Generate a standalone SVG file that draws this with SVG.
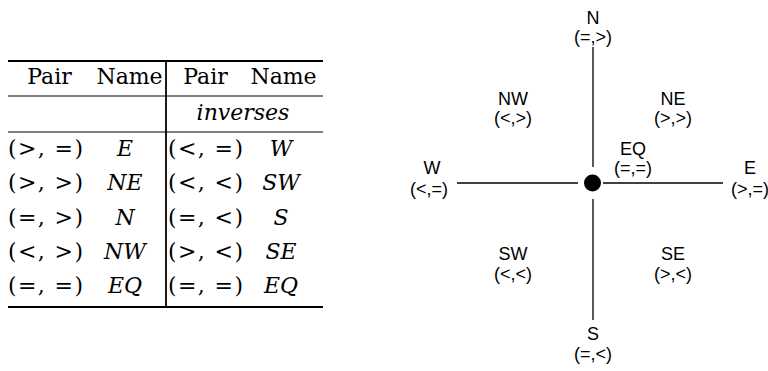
<svg xmlns="http://www.w3.org/2000/svg" width="768" height="371" viewBox="0 0 768 371">
<style>
.t{font-family:"DejaVu Serif","Liberation Serif",serif;font-size:22px;fill:#000}
.i{font-style:italic}
.m{text-anchor:middle}
.s{font-family:"Liberation Sans",Arial,sans-serif;font-size:18px;fill:#000;text-anchor:middle}
.r{stroke:#000;fill:none}
</style>
<rect width="768" height="371" fill="#fff"/>
<g id="table">
<line class="r" x1="8" y1="61" x2="323" y2="61" stroke-width="2"/>
<line class="r" x1="8" y1="96" x2="323" y2="96" stroke-width="1.2"/>
<line class="r" x1="8" y1="132" x2="323" y2="132" stroke-width="1.2"/>
<line class="r" x1="8" y1="307" x2="323" y2="307" stroke-width="2.2"/>
<line class="r" x1="166" y1="60" x2="166" y2="308" stroke-width="1.8"/>
<text class="t m" x="49.5" y="84">Pair</text>
<text class="t m" x="129.5" y="84">Name</text>
<text class="t m" x="205.5" y="84">Pair</text>
<text class="t m" x="283.5" y="84">Name</text>
<text class="t i m" x="243" y="120">inverses</text>
<g id="row1">
<text class="t" x="8" y="156" textLength="75" lengthAdjust="spacing">(&gt;, =)</text>
<text class="t i m" x="125" y="156">E</text>
<text class="t" x="168" y="156" textLength="75" lengthAdjust="spacing">(&lt;, =)</text>
<text class="t i m" x="281" y="156">W</text>
</g>
<g id="row2">
<text class="t" x="8" y="190" textLength="75" lengthAdjust="spacing">(&gt;, &gt;)</text>
<text class="t i m" x="125" y="190">NE</text>
<text class="t" x="168" y="190" textLength="75" lengthAdjust="spacing">(&lt;, &lt;)</text>
<text class="t i m" x="281" y="190">SW</text>
</g>
<g id="row3">
<text class="t" x="8" y="225" textLength="75" lengthAdjust="spacing">(=, &gt;)</text>
<text class="t i m" x="125" y="225">N</text>
<text class="t" x="168" y="225" textLength="75" lengthAdjust="spacing">(=, &lt;)</text>
<text class="t i m" x="281" y="225">S</text>
</g>
<g id="row4">
<text class="t" x="8" y="259" textLength="75" lengthAdjust="spacing">(&lt;, &gt;)</text>
<text class="t i m" x="125" y="259">NW</text>
<text class="t" x="168" y="259" textLength="75" lengthAdjust="spacing">(&gt;, &lt;)</text>
<text class="t i m" x="281" y="259">SE</text>
</g>
<g id="row5">
<text class="t" x="8" y="293" textLength="75" lengthAdjust="spacing">(=, =)</text>
<text class="t i m" x="125" y="293">EQ</text>
<text class="t" x="168" y="293" textLength="75" lengthAdjust="spacing">(=, =)</text>
<text class="t i m" x="281" y="293">EQ</text>
</g>
</g>
<g id="connectors">
<line class="r" x1="593" y1="47" x2="593" y2="167" stroke-width="1.3"/>
<line class="r" x1="593" y1="199" x2="593" y2="320" stroke-width="1.3"/>
<line class="r" x1="457" y1="183" x2="578" y2="183" stroke-width="1.3"/>
<line class="r" x1="603" y1="183" x2="723" y2="183" stroke-width="1.3"/>
</g>
<g id="EQ">
<circle cx="592.5" cy="183" r="8.5" fill="#000"/>
<text class="s" x="633" y="155">EQ</text>
<text class="s" x="633" y="174">(=,=)</text>
</g>
<g id="N"><text class="s" x="593" y="24">N</text><text class="s" x="593" y="43">(=,&gt;)</text></g>
<g id="S"><text class="s" x="593" y="340">S</text><text class="s" x="593" y="360">(=,&lt;)</text></g>
<g id="W"><text class="s" x="432" y="174">W</text><text class="s" x="429" y="195">(&lt;,=)</text></g>
<g id="E"><text class="s" x="750" y="174">E</text><text class="s" x="750" y="195">(&gt;,=)</text></g>
<g id="NW"><text class="s" x="513" y="105">NW</text><text class="s" x="513" y="124">(&lt;,&gt;)</text></g>
<g id="NE"><text class="s" x="673" y="105">NE</text><text class="s" x="673" y="124">(&gt;,&gt;)</text></g>
<g id="SW"><text class="s" x="513" y="260">SW</text><text class="s" x="513" y="280">(&lt;,&lt;)</text></g>
<g id="SE"><text class="s" x="673" y="260">SE</text><text class="s" x="673" y="280">(&gt;,&lt;)</text></g>
</svg>
